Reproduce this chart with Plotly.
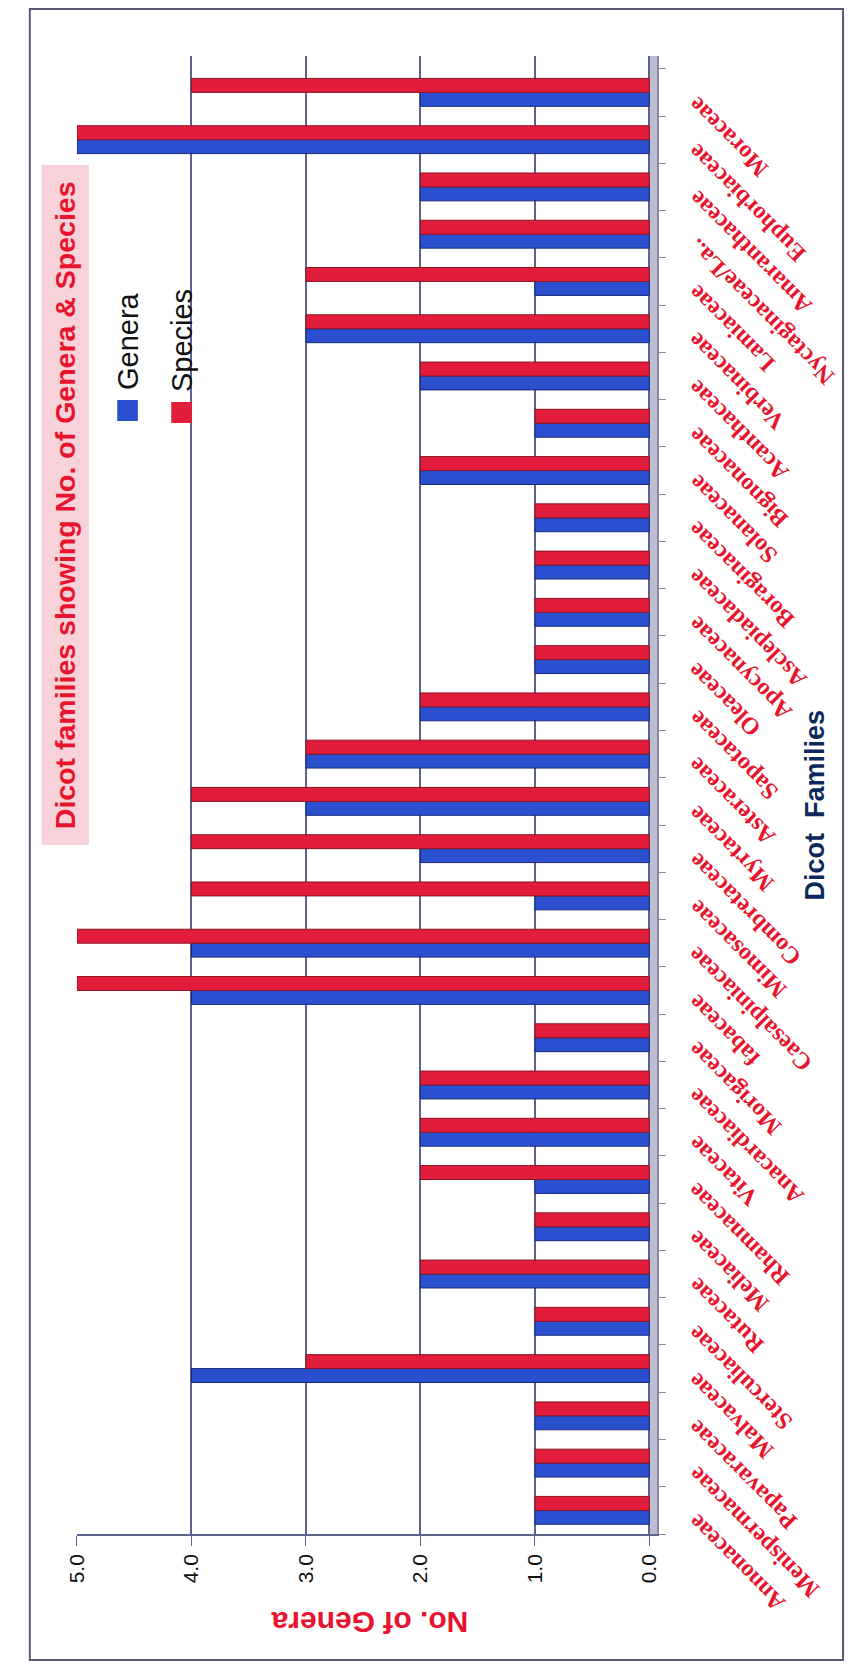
import plotly.graph_objects as go

# ---- data (bottom -> top, i.e. the original left -> right order) ----
families = [
    "Annonaceae", "Menispermaceae", "Papavaraceae", "Malvaceae", "Sterculiaceae",
    "Rutaceae", "Meliaceae", "Rhamnaceae", "Vitaceae", "Anacardiaceae",
    "Morigaceae", "fabaceae", "Caesalpiniaceae", "Mimosaceae", "Combretaceae",
    "Myrtaceae", "Asteraceae", "Sapotaceae", "Oleaceae", "Apocynaceae",
    "Asclepiadaceae", "Boraginaceae", "Solanaceae", "Bignonaceae", "Acanthaceae",
    "Verbinaceae", "Lamiaceae", "Nyctaginaceae/La..", "Amaranthaceae", "Euphorbiaceae",
    "Moraceae",
]
genera = [1, 1, 1, 4, 1, 2, 1, 1, 2, 2, 1, 4, 4, 1, 2, 3, 3, 2, 1, 1, 1, 1, 2, 1, 2, 3, 1, 2, 2, 5, 2]
species = [1, 1, 1, 3, 1, 2, 1, 2, 2, 2, 1, 5, 5, 4, 4, 4, 3, 2, 1, 1, 1, 1, 2, 1, 2, 3, 3, 2, 2, 5, 4]
value_ticks = [0, 1, 2, 3, 4, 5]

PAGE_W, PAGE_H = 857, 1669
BODY = 8                      # default page margin around the plot div
FIG_W, FIG_H = PAGE_W - 2 * BODY, PAGE_H - 2 * BODY
BLUE = "#2b50cf"
RED = "#e21d3b"
TXTRED = "#e8142e"
GRID = "#5c6390"


def px(x):
    return (x - BODY) / FIG_W


def py(y):
    return 1 - (y - BODY) / FIG_H


fig = go.Figure()
fig.add_trace(go.Bar(
    name="Genera", y=families, x=genera, orientation="h",
    marker=dict(color=BLUE, line=dict(color="#1a2878", width=1)),
))
fig.add_trace(go.Bar(
    name="Species", y=families, x=species, orientation="h",
    marker=dict(color=RED, line=dict(color="#8a1426", width=1)),
))

shapes = [
    # outer frame
    dict(type="rect", xref="paper", yref="paper", x0=px(18), x1=px(846), y0=py(1660), y1=py(9),
         line=dict(color="#5a5a78", width=2), fillcolor="rgba(0,0,0,0)", layer="below"),
    # grey 3D base wall next to the zero line
    dict(type="rect", xref="x", yref="y domain", x0=0, x1=-0.07, y0=0, y1=1,
         fillcolor="#bdbdd2", line=dict(width=0), layer="below"),
    # pink title box
    dict(type="rect", xref="paper", yref="paper", x0=px(30), x1=px(78), y0=py(845), y1=py(165),
         fillcolor="#f7d2d8", line=dict(width=0), layer="below"),
    # legend swatches
    dict(type="rect", xref="paper", yref="paper", x0=px(107), x1=px(128), y0=py(421), y1=py(400),
         fillcolor=BLUE, line=dict(width=0)),
    dict(type="rect", xref="paper", yref="paper", x0=px(162), x1=px(183), y0=py(423), y1=py(402),
         fillcolor=RED, line=dict(width=0)),
]


def note(text, x, y, angle, size, color, bold=False, family="Liberation Sans"):
    return dict(text=text, x=px(x), y=py(y), xref="paper", yref="paper", textangle=angle,
                xanchor="center", yanchor="middle", showarrow=False,
                font=dict(family=family, size=size, color=color,
                          weight="bold" if bold else "normal"))


annotations = [
    note("Dicot families showing No. of Genera & Species", 54, 505, -90, 28.5, TXTRED, True),
    note("Genera", 118, 341, -90, 29, "#111111"),
    note("Species", 173, 341, -90, 29, "#111111"),
    note("No. of Genera", 364, 1623, 180, 30, TXTRED, True),
    note("Dicot  Families", 817, 805, -90, 27, "#0b2a5c", True),
]
for fam in families:
    annotations.append(dict(
        text=fam, x=px(680), y=fam, xref="paper", yref="y", textangle=-135,
        xanchor="left", yanchor="top", yshift=4, showarrow=False,
        font=dict(family="Liberation Serif", size=24, color=TXTRED, weight="bold"),
    ))

fig.update_layout(
    width=FIG_W, height=FIG_H,
    margin=dict(l=0, r=0, t=0, b=0),
    paper_bgcolor="white", plot_bgcolor="white",
    barmode="group", bargap=0.41, bargroupgap=0.0,
    showlegend=False,
    shapes=shapes, annotations=annotations,
    xaxis=dict(
        domain=[px(66), px(657)], range=[5, -0.07],
        tickvals=value_ticks, tickformat=".1f", tickangle=-90,
        tickfont=dict(family="Liberation Sans", size=21, color="#111111"),
        showgrid=True, gridcolor=GRID, gridwidth=1.5,
        zeroline=True, zerolinecolor=GRID, zerolinewidth=1.5,
        showline=True, linecolor=GRID, linewidth=1.5,
        ticks="outside", ticklen=10, tickcolor=GRID,
    ),
    yaxis=dict(
        domain=[py(1534), py(56)], range=[-0.5, 30.77],
        side="right", showticklabels=False,
        ticks="outside", tickson="boundaries", ticklen=7, tickcolor="#8888a0",
        showline=True, linecolor="#8888a0", linewidth=1.5, showgrid=False,
    ),
)

fig.write_html("out.html")
